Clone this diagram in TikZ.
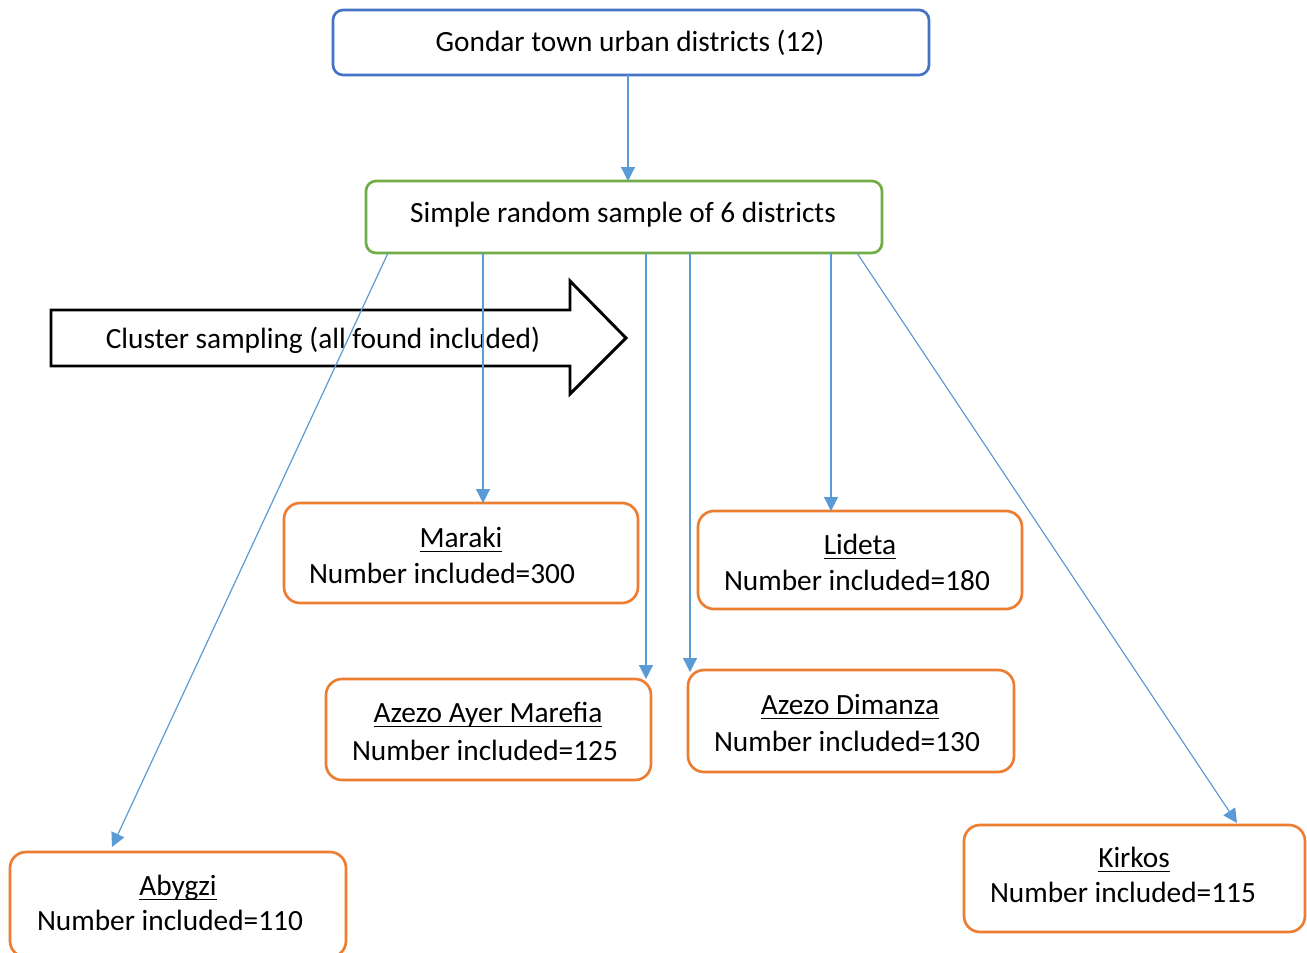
\documentclass[tikz,border=0pt]{standalone}
\usepackage{fontspec}
\setmainfont{Carlito}
\usetikzlibrary{arrows.meta,calc}

\definecolor{boxblue}{HTML}{4472C4}
\definecolor{boxgreen}{HTML}{70AD47}
\definecolor{boxorange}{HTML}{ED7D31}
\definecolor{linkblue}{HTML}{5B9BD5}

% underline at a fixed distance below the baseline
\newcommand\ulname[1]{\setbox0\hbox{#1}\rlap{\rule[-3.9pt]{\wd0}{1.1pt}}\box0}

\begin{document}
\begin{tikzpicture}[x=0.75pt,y=-0.75pt,
  every node/.style={inner sep=0pt,outer sep=0pt,font=\fontsize{22}{26}\selectfont},
  topbox/.style={draw=boxblue,line width=2pt,rounded corners=7.5pt,fill=white},
  srsbox/.style={draw=boxgreen,line width=2pt,rounded corners=7.5pt,fill=white},
  distbox/.style={draw=boxorange,line width=2pt,rounded corners=12pt,fill=white},
  txt/.style={anchor=base},
  numtxt/.style={anchor=base west},
  conn/.style={draw=linkblue,line width=0.9pt,-{Triangle[length=10.5pt,width=10.5pt]}},
  blockarrow/.style={draw=black,line width=2.2pt,fill=white,line join=miter}]

\useasboundingbox (0,0) rectangle (1307,953);

% top level and sample boxes
\node[topbox,minimum width=447pt,minimum height=48.75pt] (top) at (631,42.5) {};
\node[txt] (toptxt) at (630,51) {Gondar town urban districts (12)};
\node[srsbox,minimum width=387pt,minimum height=54pt] (srs) at (624,217) {};
\node[txt] (srstxt) at (623,222) {Simple random sample of 6 districts};

\draw[conn] (top.south -| 628,0) -- (srs.north -| 628,0);

% cluster sampling block arrow
\draw[blockarrow] (51,310) -- (570,310) -- (570,281) -- (626,338) -- (570,394)
  -- (570,366) -- (51,366) -- cycle;
\node[txt] (clustertxt) at (323,348) {Cluster sampling (all found included)};

% district boxes
\node[distbox,minimum width=265.5pt,minimum height=75pt] (mk) at (461,553) {};
\node[distbox,minimum width=243pt,minimum height=73.5pt] (ld) at (860,560) {};
\node[distbox,minimum width=243.75pt,minimum height=75.75pt] (aam) at (488.5,729.5) {};
\node[distbox,minimum width=244.5pt,minimum height=76.5pt] (ad) at (851,721) {};
\node[distbox,minimum width=252pt,minimum height=78.75pt] (ab) at (178,904.5) {};
\node[distbox,minimum width=255.75pt,minimum height=80.25pt] (kk) at (1134.5,878.5) {};

\node[txt] (mkname) at (461,547) {\ulname{Maraki}};
\node[numtxt] (mknum) at (309,583) {Number included=300};
\node[txt] (ldname) at (860,554) {\ulname{Lideta}};
\node[numtxt] (ldnum) at (724,590) {Number included=180};
\node[txt] (aamname) at (488,722) {\ulname{Azezo Ayer Marefia}};
\node[numtxt] (aamnum) at (352,760) {Number included=125};
\node[txt] (adname) at (850,714) {\ulname{Azezo Dimanza}};
\node[numtxt] (adnum) at (714,751) {Number included=130};
\node[txt] (abname) at (178,895) {\ulname{Abygzi}};
\node[numtxt] (abnum) at (37,930) {Number included=110};
\node[txt] (kkname) at (1134,867) {\ulname{Kirkos}};
\node[numtxt] (kknum) at (990,902) {Number included=115};

% connectors from the sample box to each district
\draw[conn] (srs.south -| 388,0) -- ($(ab.north -| 112,0)+(0,-5)$);
\draw[conn] (srs.south -| 483,0) -- (mk.north -| 483,0);
\draw[conn] (srs.south -| 646,0) -- (aam.north -| 646,0);
\draw[conn] (srs.south -| 690,0) -- ($(ad.north -| 690,0)+(0,2)$);
\draw[conn] (srs.south -| 831,0) -- (ld.north -| 831,0);
\draw[conn] (srs.south -| 857,0) -- ($(kk.north -| 1237,0)+(0,-2)$);
\end{tikzpicture}
\end{document}
